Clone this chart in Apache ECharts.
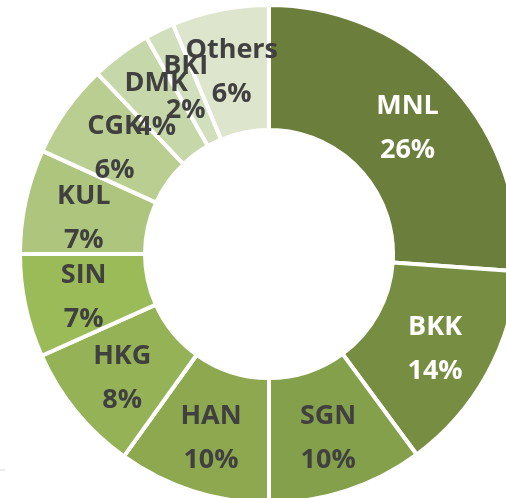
<!DOCTYPE html>
<html>
<head>
<meta charset="utf-8">
<script src="https://cdn.jsdelivr.net/npm/echarts@6/dist/echarts.min.js"></script>
<style>
  html, body { margin: 0; padding: 0; background: #fff; }
  #main { width: 506px; height: 498px; }
</style>
</head>
<body>
<div id="main"></div>
<script>
// airports and their share (percent)
var airports = ["MNL", "BKK", "SGN", "HAN", "HKG", "SIN", "KUL", "CGK", "DMK", "BKI", "Others"];
var shares = [26.1, 13.8, 10.1, 9.9, 8.4, 6.7, 6.8, 6.1, 3.9, 1.9, 6.3];
var colors = ["#6b7e3b", "#778e42", "#84a04b", "#8da84f", "#95b356", "#9bbb59",
              "#adc57c", "#b9ce90", "#c6d7a9", "#d1dfbc", "#dde6cd"];
var whiteLabels = ["MNL", "BKK"];

var myChart = echarts.init(document.getElementById("main"));

var data = airports.map(function (name, i) {
  return {
    name: name,
    value: shares[i],
    itemStyle: { color: colors[i] },
    label: { color: whiteLabels.indexOf(name) >= 0 ? "#ffffff" : "#404040" }
  };
});

var option = {
  animation: false,
  series: [
    {
      type: "pie",
      center: [269, 254],
      radius: [124, 249],
      startAngle: 90,
      clockwise: true,
      avoidLabelOverlap: false,
      itemStyle: {
        borderColor: "#ffffff",
        borderWidth: 4
      },
      label: {
        show: true,
        position: "inside",
        fontFamily: "Open Sans",
        fontWeight: "bold",
        fontSize: 27,
        lineHeight: 44,
        offset: [0, 4],
        formatter: function (p) {
          return p.name + "\n" + Math.round(p.percent) + "%";
        }
      },
      labelLayout: { hideOverlap: false },
      labelLine: { show: false },
      emphasis: { disabled: true },
      data: data
    }
  ],
  graphic: [
    {
      type: "line",
      shape: { x1: 0, y1: 470, x2: 5, y2: 470 },
      style: { stroke: "#d9d9d9", lineWidth: 1 }
    }
  ]
};

myChart.setOption(option);
</script>
</body>
</html>
